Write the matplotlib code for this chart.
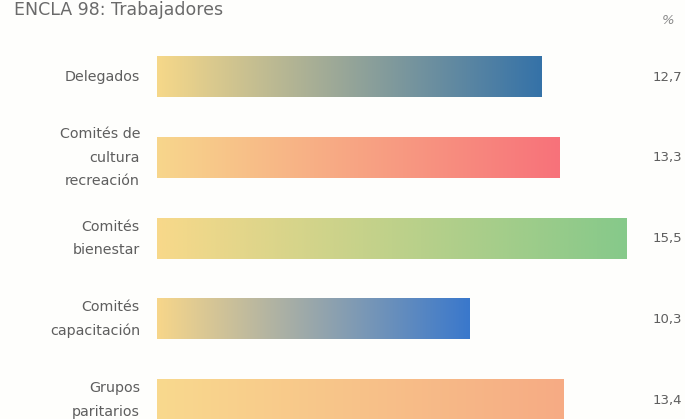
import numpy as np
import matplotlib
matplotlib.use("Agg")
import matplotlib.pyplot as plt
from matplotlib.colors import LinearSegmentedColormap

# Data
categories = ["Delegados", "Comités de\ncultura\nrecreación", "Comités\nbienestar",
              "Comités\ncapacitación", "Grupos\nparitarios"]
values = [12.7, 13.3, 15.5, 10.3, 13.4]
value_labels = ["12,7", "13,3", "15,5", "10,3", "13,4"]
start_colors = ["#f6d889", "#f8d68c", "#f8d98a", "#f7d68a", "#f9d98e"]
end_colors = ["#3572a8", "#f7727a", "#86c98a", "#3a78cc", "#f6ab84"]
title = "ENCLA 98: Trabajadores"

W, H = 685, 419
fig = plt.figure(figsize=(W / 100, H / 100), dpi=100)
fig.patch.set_facecolor("#fefefc")

# axes: x=0 at pixel 157, 30.3 px per unit; rows spaced ~80.75 px starting at 77 px
x0_px, px_per_unit = 157, 30.3
row0, row_step = 77, 80.75
ax = fig.add_axes([x0_px / W, 0, 1 - x0_px / W, 1])
ax.axis("off")
ax.set_facecolor("none")

bar_h = 0.5
grad = np.linspace(0, 1, 256).reshape(1, -1)
for i, (v, c0, c1) in enumerate(zip(values, start_colors, end_colors)):
    cmap = LinearSegmentedColormap.from_list(f"g{i}", [c0, c1])
    ax.imshow(grad, cmap=cmap, aspect="auto",
              extent=(0, v, i + bar_h / 2, i - bar_h / 2), zorder=2,
              interpolation="bicubic")

ax.set_xlim(0, (W - x0_px) / px_per_unit)
ax.set_ylim((H - row0) / row_step, -row0 / row_step)

font = ["DejaVu Sans"]
txt_color = "#5e5e5e"
for i, (cat, lab) in enumerate(zip(categories, value_labels)):
    y_px = row0 + i * row_step
    fig.text(140 / W, 1 - y_px / H, cat, ha="right", va="center",
             fontsize=10.3, color=txt_color, family=font, linespacing=1.85)
    fig.text(682 / W, 1 - y_px / H, lab, ha="right", va="center",
             fontsize=9.5, color=txt_color, family=font)

fig.text(668 / W, 1 - 21 / H, "%", ha="center", va="center", fontsize=9.5,
         color="#8a8a8a", family=font, style="italic")
fig.text(14 / W, 1 - 1 / H, title, ha="left", va="top", fontsize=12.5,
         color="#6a6a6a", family=font)

fig.savefig("out.png", dpi=100, facecolor=fig.get_facecolor())
